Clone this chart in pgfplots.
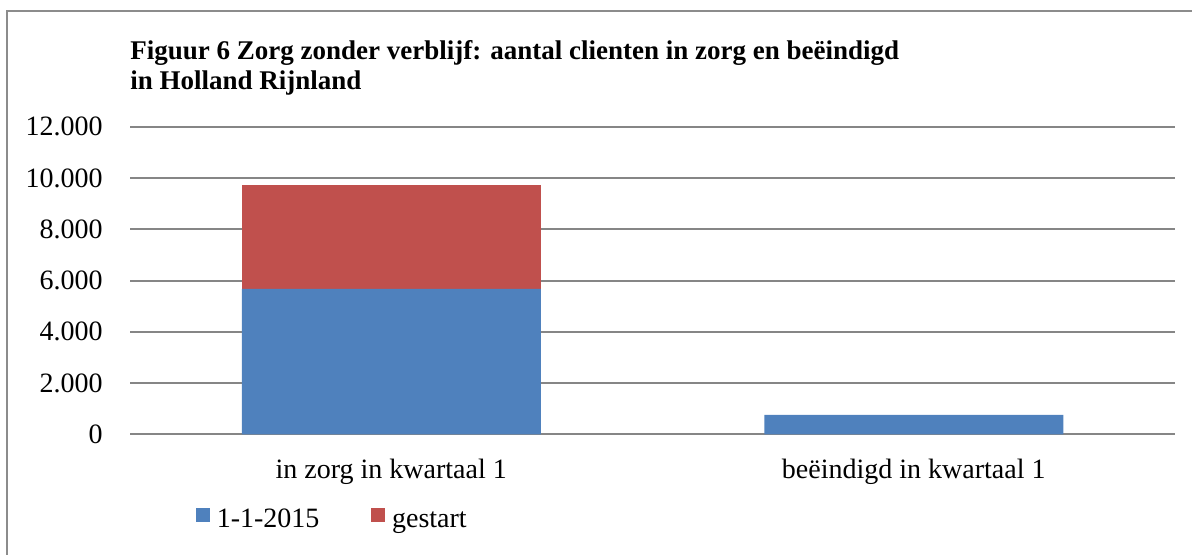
\documentclass[border=0pt]{standalone}
\usepackage{fontspec}
\setmainfont{Liberation Serif}
\usepackage{pgfplots}
\pgfplotsset{compat=1.18}
\definecolor{barblue}{HTML}{4F81BD}
\definecolor{barred}{HTML}{C0504D}
\definecolor{gridgray}{HTML}{868686}
\definecolor{framegray}{HTML}{8C8C8C}
\begin{document}
\begin{tikzpicture}
\path[use as bounding box] (0pt,0pt) rectangle (596pt,-277.5pt);
\draw[framegray, line width=1pt] (3.5pt,-280pt) -- (3.5pt,-5.5pt) -- (600pt,-5.5pt);
\node[anchor=base west, inner sep=0pt, font=\fontsize{13.5}{15}\selectfont\bfseries] at (65pt,-30pt) {Figuur 6 Zorg zonder verblijf: aantal clienten in zorg en beëindigd};
\node[anchor=base west, inner sep=0pt, font=\fontsize{13.5}{15}\selectfont\bfseries] at (65pt,-45pt) {in Holland Rijnland};
\begin{axis}[
  at={(65pt,-217.15pt)}, anchor=south west,
  scale only axis, width=522.5pt, height=153.8pt,
  ybar stacked, bar width=149.5pt,
  xmin=-0.5, xmax=1.5, ymin=0, ymax=12000,
  xtick={0,1}, xticklabels={in zorg in kwartaal 1, beëindigd in kwartaal 1},
  ytick={0,2000,...,12000},
  ymajorgrids, major grid style={gridgray, line width=1pt},
  axis line style={draw=none}, major tick length=0pt,
  tick label style={font=\fontsize{14}{16}\selectfont},
  yticklabel style={anchor=east, inner sep=0pt, xshift=-13.5pt},
  xticklabel style={anchor=base, inner sep=0pt, yshift=-21.85pt},
  /pgf/number format/1000 sep={.}, /pgf/number format/assume math mode=true,
  scaled y ticks=false,
  legend columns=2,
  legend style={at={(0.063,-0.2705)}, anchor=west, draw=none, fill=none, inner sep=0pt,
    font=\fontsize{14}{16}\selectfont,
    /tikz/every even column/.append style={column sep=24pt}},
]
\addplot[fill=barblue, draw=none, legend image code/.code={\fill[barblue] (0pt,-2.15pt) rectangle (6.8pt,4.6pt);}] coordinates {(0,5670) (1,760)};
\addplot[fill=barred, draw=none, legend image code/.code={\fill[barred] (0pt,-2.15pt) rectangle (6.8pt,4.6pt);}] coordinates {(0,4060) (1,0)};
\legend{\strut\hspace{1.5pt}1-1-2015, \strut\hspace{1.5pt}gestart}
\end{axis}
\end{tikzpicture}
\end{document}
